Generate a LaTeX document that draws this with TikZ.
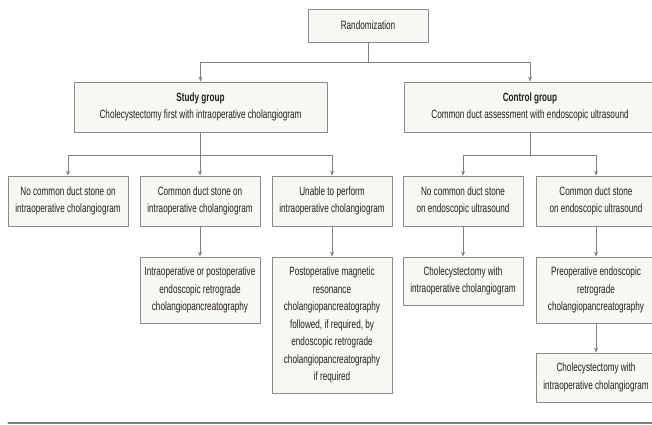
\documentclass[tikz,border=0pt]{standalone}
\usepackage{fontspec}
\setmainfont{Liberation Sans}[FakeStretch=0.68]
\usetikzlibrary{arrows.meta,shadows}
\definecolor{boxfill}{HTML}{F8F7F3}
\definecolor{boxline}{HTML}{8A8A8A}
\definecolor{linecol}{HTML}{7F7F7F}
\definecolor{txt}{HTML}{231F20}
\begin{document}
\begin{tikzpicture}[x=1pt,y=-1pt,line join=round,line cap=round,
	font=\fontsize{12}{17.5}\selectfont,text=txt,
	box/.style={draw=boxline,fill=boxfill,line width=.8pt,align=center,inner sep=2pt,
		drop shadow={shadow xshift=.6pt,shadow yshift=-.9pt,opacity=.45,fill=gray}},
	con/.style={draw=linecol,line width=.8pt},
	arr/.style={con,-{Stealth[length=5pt,width=4pt]}}]
	\useasboundingbox (0,0) rectangle (652,424);
	% top
	\node[box,minimum width=120pt,minimum height=33pt] (rand) at (368,25.5) {Randomization};
	\node[box,minimum width=253pt,minimum height=50pt] (study) at (200.5,107) {\textbf{Study group}\\Cholecystectomy first with intraoperative cholangiogram};
	\node[box,minimum width=252pt,minimum height=50pt] (control) at (530,107) {\textbf{Control group}\\Common duct assessment with endoscopic ultrasound};
	% second row
	\node[box,minimum width=120pt,minimum height=50pt] (nostone) at (68,201) {No common duct stone on\\intraoperative cholangiogram};
	\node[box,minimum width=120pt,minimum height=50pt] (stone) at (200,201) {Common duct stone on\\intraoperative cholangiogram};
	\node[box,minimum width=120pt,minimum height=50pt] (unable) at (332,201) {Unable to perform\\intraoperative cholangiogram};
	\node[box,minimum width=120pt,minimum height=50pt] (eusno) at (463,201) {No common duct stone\\on endoscopic ultrasound};
	\node[box,minimum width=120pt,minimum height=50pt] (eusyes) at (596,201) {Common duct stone\\on endoscopic ultrasound};
	% third row
	\node[box,minimum width=120pt,minimum height=66pt] (ercp) at (200,290) {Intraoperative or postoperative\\endoscopic retrograde\\cholangiopancreatography};
	\node[box,minimum width=120pt,minimum height=136pt] (mrcp) at (332,325) {Postoperative magnetic\\resonance\\cholangiopancreatography\\followed, if required, by\\endoscopic retrograde\\cholangiopancreatography\\if required};
	\node[box,minimum width=120pt,minimum height=48pt] (chole) at (463,281) {Cholecystectomy with\\intraoperative cholangiogram};
	\node[box,minimum width=120pt,minimum height=66pt] (preercp) at (596,290) {Preoperative endoscopic\\retrograde\\cholangiopancreatography};
	\node[box,minimum width=120pt,minimum height=49pt] (chole2) at (596,377.5) {Cholecystectomy with\\intraoperative cholangiogram};
	% junctions
	\coordinate (jr) at (368,62);
	\coordinate (js) at (200.5,155);
	\coordinate (jc) at (530,155);
	\draw[con] (rand) -- (jr);
	\draw[arr] (jr) -| (study.north);
	\draw[arr] (jr) -| (control.north);
	\draw[con] (study) -- (js);
	\draw[arr] (js) -| (nostone.north);
	\draw[arr] (js) -| (stone.north);
	\draw[arr] (js) -| (unable.north);
	\draw[con] (control) -- (jc);
	\draw[arr] (jc) -| (eusno.north);
	\draw[arr] (jc) -| (eusyes.north);
	\draw[arr] (stone) -- (ercp);
	\draw[arr] (unable) -- (mrcp.north);
	\draw[arr] (eusno) -- (chole);
	\draw[arr] (eusyes) -- (preercp);
	\draw[arr] (preercp) -- (chole2);
	% rule
	\draw[draw=linecol,line width=1.3pt] (8,423) -- (652,423);
\end{tikzpicture}
\end{document}
